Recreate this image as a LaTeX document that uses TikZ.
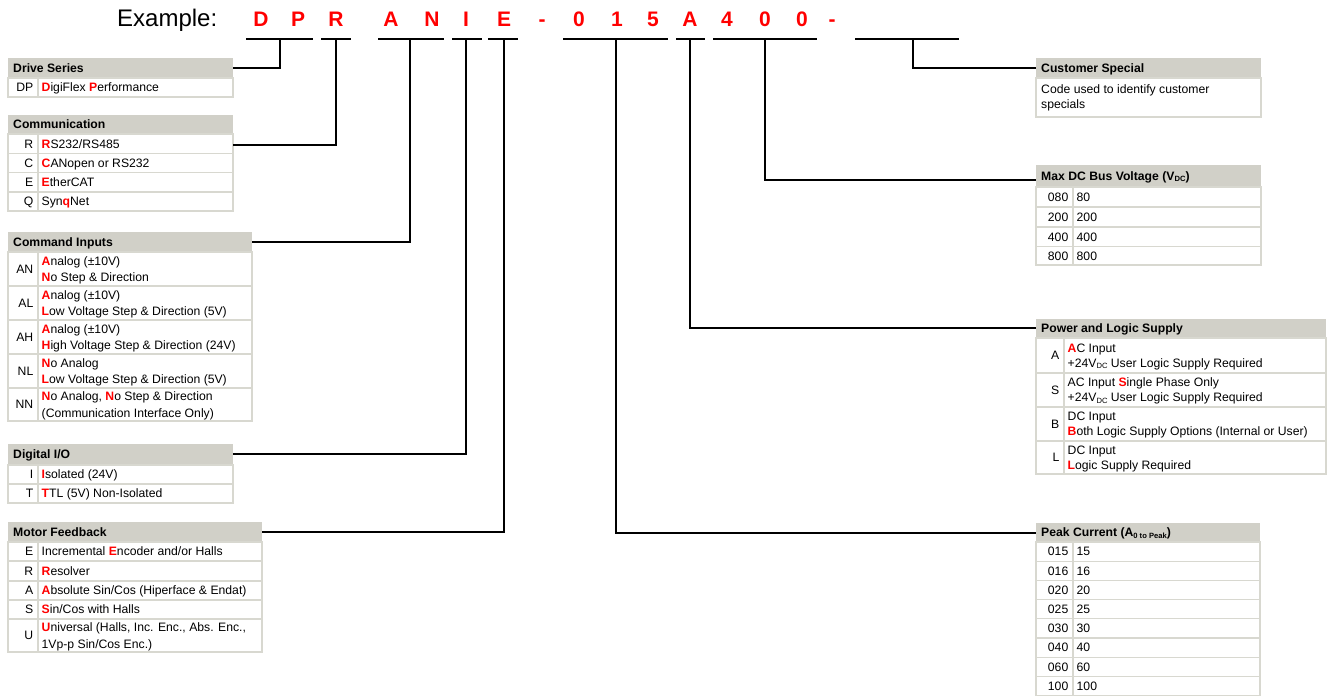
\documentclass[tikz,border=0pt]{standalone}
\usepackage{fontspec}
\setmainfont{Liberation Sans}
\usepackage{xcolor}
\definecolor{hdrgray}{RGB}{209,208,200}
\definecolor{cellgray}{RGB}{216,216,208}
\definecolor{codered}{RGB}{255,0,0}
\newcommand\rd[1]{\textcolor{codered}{\textbf{#1}}}
\newcommand\subsm[1]{\raisebox{-1.6pt}{\fontsize{7.6}{8}\selectfont #1}}
\newcounter{cellno}
\tikzset{
  txt/.style={inner sep=0pt, font=\fontsize{12.2}{14}\selectfont},
  hdrtxt/.style={inner sep=0pt, font=\fontsize{12.2}{14}\selectfont\bfseries},
  cell/.style={draw=cellgray, line width=1.2pt},
  conn/.style={line width=2pt},
  uline/.style={line width=2pt},
  codech/.style={inner sep=0pt, text=codered, font=\fontsize{21}{24}\selectfont\bfseries, anchor=base},
}
% header: name, x1, y1, x2, y2, text
\newcommand\thdr[6]{%
  \fill[hdrgray] (#2,#3) rectangle (#4,#5);
  \node[hdrtxt, anchor=base west] (#1) at (#2+5, {(#3+#5)/2+4.37}) {#6};
}
% single-line row: x1, y1, xdiv, x2, y2, key, desc
\newcommand\trow[7]{%
  \draw[cell] (#1,#2) rectangle (#4,#5) (#3,#2) -- (#3,#5);
  \stepcounter{cellno}%
  \node[txt, anchor=base east] (k\arabic{cellno}) at (#3-4.5, {(#2+#5)/2+4.37}) {#6};
  \node[txt, anchor=base west] (d\arabic{cellno}) at (#3+3.5, {(#2+#5)/2+4.37}) {#7};
}
% two-line row: x1, y1, xdiv, x2, y2, key, line1, line2, spacing
\newcommand\trowB[9]{%
  \draw[cell] (#1,#2) rectangle (#4,#5) (#3,#2) -- (#3,#5);
  \stepcounter{cellno}%
  \node[txt, anchor=base east] (k\arabic{cellno}) at (#3-4.5, {(#2+#5)/2+4.37}) {#6};
  \node[txt, anchor=base west] (a\arabic{cellno}) at (#3+3.5, {(#2+#5)/2-#9/2+4.37}) {#7};
  \node[txt, anchor=base west] (b\arabic{cellno}) at (#3+3.5, {(#2+#5)/2+#9/2+4.37}) {#8};
}
\begin{document}
\begin{tikzpicture}[x=1pt, y=-1pt]
\useasboundingbox (0,0) rectangle (1327,696);

% ---------- code line ----------
\node[anchor=base west, inner sep=0pt, font=\fontsize{24}{28}\selectfont] (ex) at (117,27) {Example:};
\foreach \ch/\xx [count=\i] in {D/261, P/298, R/336, A/391, N/432, I/466, E/504, -/542, 0/579, 1/617, 5/653, A/690, 4/727, 0/765, 0/802, -/832}
  \node[codech] (ch\i) at (\xx,27) {\ch};

\draw[uline] (246,39) -- (313,39);
\draw[uline] (321,39) -- (351,39);
\draw[uline] (378,39) -- (444,39);
\draw[uline] (452,39) -- (482,39);
\draw[uline] (488,39) -- (518,39);
\draw[uline] (563,39) -- (668,39);
\draw[uline] (676,39) -- (705,39);
\draw[uline] (713,39) -- (817,39);
\draw[uline] (855,39) -- (959,39);

\coordinate (uDP) at (280,39);
\coordinate (uR) at (336,39);
\coordinate (uAN) at (410,39);
\coordinate (uI) at (466,39);
\coordinate (uE) at (504,39);
\coordinate (u015) at (616,39);
\coordinate (uA) at (690,39);
\coordinate (u400) at (765,39);
\coordinate (uCS) at (913,39);

% ---------- Drive Series ----------
\thdr{drv}{8}{58}{233}{78}{Drive Series}
\trow{8}{78}{38}{233}{97}{DP}{\rd{D}igiFlex \rd{P}erformance}
\coordinate (drvE) at (233,68);

% ---------- Communication ----------
\thdr{com}{8}{115}{233}{134}{Communication}
\trow{8}{134}{38}{233}{153.3}{R}{\rd{R}S232/RS485}
\trow{8}{153.3}{38}{233}{172.6}{C}{\rd{C}ANopen or RS232}
\trow{8}{172.6}{38}{233}{191.9}{E}{\rd{E}therCAT}
\trow{8}{191.9}{38}{233}{211}{Q}{Syn\rd{q}Net}
\coordinate (comE) at (233,145);

% ---------- Command Inputs ----------
\thdr{cmd}{8}{232}{252}{252}{Command Inputs}
\trowB{8}{252}{38}{252}{286}{AN}{\rd{A}nalog (±10V)}{\rd{N}o Step \& Direction}{16.5}
\trowB{8}{286}{38}{252}{320}{AL}{\rd{A}nalog (±10V)}{\rd{L}ow Voltage Step \& Direction (5V)}{16.5}
\trowB{8}{320}{38}{252}{354}{AH}{\rd{A}nalog (±10V)}{\rd{H}igh Voltage Step \& Direction (24V)}{16.5}
\trowB{8}{354}{38}{252}{388}{NL}{\rd{N}o Analog}{\rd{L}ow Voltage Step \& Direction (5V)}{16.5}
\trowB{8}{388}{38}{252}{421}{NN}{\rd{N}o Analog, \rd{N}o Step \& Direction}{(Communication Interface Only)}{16.5}
\coordinate (cmdE) at (252,242);

% ---------- Digital I/O ----------
\thdr{dio}{8}{444}{233}{465}{Digital I/O}
\trow{8}{465}{38}{233}{484}{I}{\rd{I}solated (24V)}
\trow{8}{484}{38}{233}{503}{T}{\rd{T}TL (5V) Non-Isolated}
\coordinate (dioE) at (233,454);

% ---------- Motor Feedback ----------
\thdr{mfb}{8}{522}{262}{542}{Motor Feedback}
\trow{8}{542}{38}{262}{561}{E}{Incremental \rd{E}ncoder and/or Halls}
\trow{8}{561}{38}{262}{581}{R}{\rd{R}esolver}
\trow{8}{581}{38}{262}{600}{A}{\rd{A}bsolute Sin/Cos (Hiperface \& Endat)}
\trow{8}{600}{38}{262}{619}{S}{\rd{S}in/Cos with Halls}
\trowB{8}{619}{38}{262}{652}{U}{\rd{U}niversal (Halls, Inc. Enc., Abs. Enc.,}{1Vp-p Sin/Cos Enc.)}{16.5}
\coordinate (mfbE) at (262,532);

% ---------- Customer Special ----------
\thdr{cus}{1036}{58}{1261}{78}{Customer Special}
\draw[cell] (1036,78) rectangle (1261,117);
\node[txt, anchor=base west] (cus1) at (1041,93.4) {Code used to identify customer};
\node[txt, anchor=base west] (cus2) at (1041,108.4) {specials};
\coordinate (cusW) at (1036,68);

% ---------- Max DC Bus Voltage ----------
\thdr{mdc}{1036}{165}{1261}{187}{Max DC Bus Voltage (V\subsm{DC})}
\trow{1036}{187}{1073}{1261}{207}{080}{80}
\trow{1036}{207}{1073}{1261}{227}{200}{200}
\trow{1036}{227}{1073}{1261}{246.5}{400}{400}
\trow{1036}{246.5}{1073}{1261}{265}{800}{800}
\coordinate (mdcW) at (1036,180);

% ---------- Power and Logic Supply ----------
\thdr{pls}{1036}{319}{1326}{338}{Power and Logic Supply}
\trowB{1036}{338}{1064}{1326}{373}{A}{\rd{A}C Input}{+24V\subsm{DC} User Logic Supply Required}{15}
\trowB{1036}{373}{1064}{1326}{407}{S}{AC Input \rd{S}ingle Phase Only}{+24V\subsm{DC} User Logic Supply Required}{15}
\trowB{1036}{407}{1064}{1326}{441}{B}{DC Input}{\rd{B}oth Logic Supply Options (Internal or User)}{15}
\trowB{1036}{441}{1064}{1326}{474}{L}{DC Input}{\rd{L}ogic Supply Required}{15}
\coordinate (plsW) at (1036,328);

% ---------- Peak Current ----------
\thdr{pkc}{1036}{523}{1260}{542}{Peak Current (A\subsm{\bfseries 0 to Peak})}
\foreach \kk/\vv [count=\j from 0] in {015/15, 016/16, 020/20, 025/25, 030/30, 040/40, 060/60, 100/100}
  \trow{1036}{542+19.2*\j}{1073}{1260}{561.2+19.2*\j}{\kk}{\vv};
\coordinate (pkcW) at (1036,533);

% ---------- connectors ----------
\draw[conn] (uDP) |- (drvE);
\draw[conn] (uR) |- (comE);
\draw[conn] (uAN) |- (cmdE);
\draw[conn] (uI) |- (dioE);
\draw[conn] (uE) |- (mfbE);
\draw[conn] (u015) |- (pkcW);
\draw[conn] (uA) |- (plsW);
\draw[conn] (u400) |- (mdcW);
\draw[conn] (uCS) |- (cusW);
\end{tikzpicture}
\end{document}
